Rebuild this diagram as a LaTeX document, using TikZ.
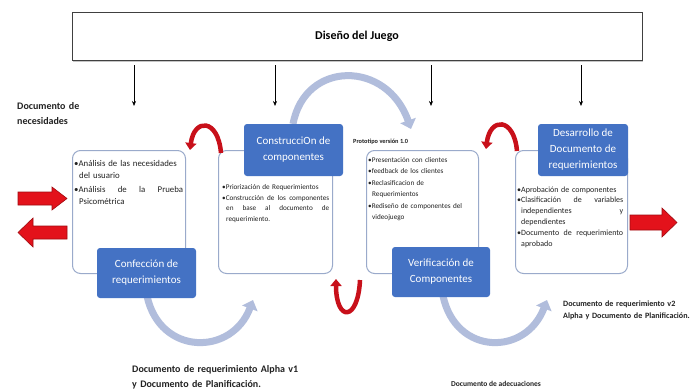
\documentclass[tikz,border=0pt]{standalone}
\usepackage{fontspec}
\setmainfont{Carlito}
\usetikzlibrary{arrows.meta,shadows}
\definecolor{panelline}{HTML}{9AAACB}
\definecolor{labelblue}{HTML}{4472C4}
\definecolor{arcblue}{HTML}{B1BDDC}
\definecolor{redarr}{HTML}{E3121B}
\definecolor{redarc}{HTML}{C8101A}
\definecolor{rededge}{HTML}{A00A10}
\definecolor{notecol}{HTML}{222222}
\newcommand\jline[2]{\makebox[#1][s]{\spaceskip=0pt plus 1fil\relax #2}}
\begin{document}
\begin{tikzpicture}[x=1pt,y=-1pt,
  pnl/.style={draw=panelline, line width=1pt, rounded corners=8pt, fill=white, inner sep=0pt, anchor=north west},
  bluelab/.style={fill=labelblue, rounded corners=3pt, text=white, align=center, font=\fontsize{11}{16}\selectfont, inner sep=0pt},
  ptext/.style={align=left, inner sep=0pt, anchor=base west, text=notecol},
  downarr/.style={-{Stealth[length=5pt,width=4pt]}, line width=0.6pt},
  bluearc/.style={draw=arcblue, line width=7pt, -{Triangle[length=9pt,width=16pt]}},
  redbend/.style={draw=redarc, line width=4.5pt, -{Triangle[length=7pt,width=11pt]}},
  blockarr/.style={fill=redarr, draw=rededge, line width=0.6pt},
  notetxt/.style={align=left, inner sep=0pt, anchor=base west, text=notecol}
]
\useasboundingbox[fill=white] (0,0) rectangle (700,388);

% top box
\node[draw=black!75, line width=0.8pt, fill=white, minimum width=570pt, minimum height=48pt,
      font=\bfseries\fontsize{12}{14}\selectfont,
      drop shadow={shadow xshift=1pt, shadow yshift=-2pt, opacity=0.45}] (top) at (357,36) {Diseño del Juego};

% down arrows
\coordinate (d1) at (134,106);
\coordinate (d2) at (275,106);
\coordinate (d3) at (431,106);
\coordinate (d4) at (581,106);
\foreach \d in {d1,d2,d3,d4}{
  \draw[downarr] ([yshift=-5pt]top.south -| \d) -- (\d);
}

% light blue cycle arcs
\coordinate (ba1s) at (293,124);
\coordinate (ba1e) at (411,129);
\draw[bluearc] (ba1s) .. controls (305,60) and (387,60) .. (ba1e);
\coordinate (ba2s) at (147,296);
\coordinate (ba2e) at (253,300);
\draw[bluearc] (ba2s) .. controls (160,356) and (232,356) .. (ba2e);
\coordinate (ba3s) at (443,296);
\coordinate (ba3e) at (547,300);
\draw[bluearc] (ba3s) .. controls (456,356) and (526,356) .. (ba3e);

% panels
\node[pnl, minimum width=113pt, minimum height=123pt] (p1) at (72,150) {};
\node[pnl, minimum width=114pt, minimum height=123pt] (p2) at (218,150) {};
\node[pnl, minimum width=112pt, minimum height=123pt] (p3) at (366,150) {};
\node[pnl, minimum width=112pt, minimum height=123pt] (p4) at (515,150) {};

% panel texts
\node[ptext, text width=109pt, font=\fontsize{8.8}{12}\selectfont] (t1) at (74,166) {%
•Análisis de las necesidades\\
\hspace*{5pt}del usuario\\[2.5pt]
\jline{\linewidth}{•Análisis de la Prueba}\\
\hspace*{5pt}Psicométrica};

\node[ptext, text width=107pt, font=\fontsize{7.2}{10.5}\selectfont] (t2) at (222,189) {%
•Priorización de Requerimientos\\[0.5pt]
\jline{\linewidth}{•Construcción de los componentes}\\
\hspace*{4pt}\jline{\dimexpr\linewidth-4pt\relax}{en base al documento de}\\
\hspace*{4pt}requerimiento.};

\node[ptext, text width=96pt, font=\fontsize{7.2}{11.5}\selectfont] (t3) at (368,162) {%
•Presentación con clientes\\
•feedback de los clientes\\
•Reclasificacion de\\
\hspace*{4pt}Requerimientos\\
•Rediseño de componentes del\\
\hspace*{4pt}videojuego};

\node[ptext, text width=106pt, font=\fontsize{8}{10.8}\selectfont] (t4) at (517,192) {%
•Aprobación de componentes\\
\jline{\linewidth}{•Clasificación de variables}\\
\hspace*{4pt}\jline{\dimexpr\linewidth-4pt\relax}{independientes y}\\
\hspace*{4pt}dependientes\\
\jline{\linewidth}{•Documento de requerimiento}\\
\hspace*{4pt}aprobado};

% blue labels
\node[bluelab, minimum width=99pt, minimum height=50pt] (l1) at (146.5,273) {Confección de\\requerimientos};
\node[bluelab, minimum width=99pt, minimum height=52pt] (l2) at (293.5,150) {ConstrucciOn de\\componentes};
\node[bluelab, minimum width=98pt, minimum height=50pt] (l3) at (441,272) {Verificación de\\Componentes};
\node[bluelab, minimum width=90pt, minimum height=52pt] (l4) at (583,150) {Desarrollo de\\Documento de\\requerimientos};

% red bent arrows
\coordinate (r1s) at (221,153);
\coordinate (r1e) at (190,150);
\draw[redbend] (r1s) .. controls (218,118) and (194,118) .. (r1e);
\coordinate (r2s) at (517,151);
\coordinate (r2e) at (486,149);
\draw[redbend] (r2s) .. controls (514,117) and (490,117) .. (r2e);
\coordinate (r3s) at (360,280);
\coordinate (r3e) at (336,279);
\draw[redbend] (r3s) .. controls (358,322) and (336,322) .. (r3e);

% red block arrows
\draw[blockarr] (18,192) -- (52,192) -- (52,187) -- (67,198.5) -- (52,210) -- (52,205) -- (18,205) -- cycle;
\draw[blockarr] (67,226) -- (33,226) -- (33,218) -- (18,232.5) -- (33,247) -- (33,239) -- (67,239) -- cycle;
\draw[blockarr] (630,215) -- (662,215) -- (662,208) -- (677,222.5) -- (662,237) -- (662,230) -- (630,230) -- cycle;

% notes
\node[notetxt, text width=80pt, font=\bfseries\fontsize{10}{15}\selectfont] (n1) at (17,109) {Documento de\\necesidades};
\node[notetxt, font=\bfseries\fontsize{6.3}{8}\selectfont] (n2) at (353,143) {Prototipo versión 1.0};
\node[notetxt, text width=180pt, font=\bfseries\fontsize{10}{15}\selectfont] (n3) at (132,372) {Documento de requerimiento Alpha v1\\y Documento de Planificación.};
\node[notetxt, text width=135pt, font=\bfseries\fontsize{8.1}{12}\selectfont] (n4) at (563,306) {Documento de requerimiento v2\\Alpha y Documento de Planificación.};
\node[notetxt, font=\bfseries\fontsize{7.5}{9}\selectfont] (n5) at (451,386) {Documento de adecuaciones};
\end{tikzpicture}
\end{document}
